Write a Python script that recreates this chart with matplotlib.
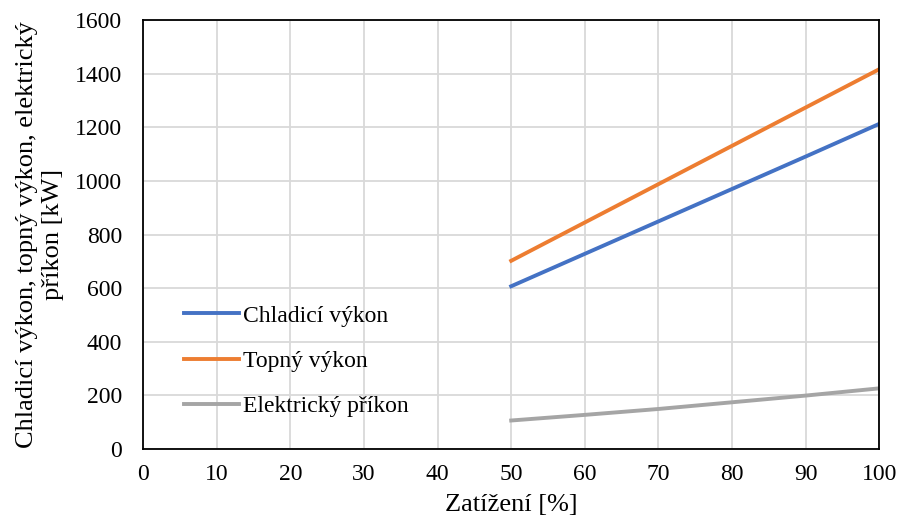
import matplotlib.pyplot as plt

# Data
zatizeni = [50, 60, 70, 80, 90, 100]
chladici_vykon = [607, 728, 849, 970, 1091, 1213]
topny_vykon = [702, 845, 988, 1131, 1274, 1417]
elektricky_prikon = [106, 127, 149, 174, 199, 226]

plt.rcParams['font.family'] = ['Liberation Serif', 'DejaVu Serif']

fig = plt.figure(figsize=(9, 5.3), dpi=100)
ax = fig.add_axes([0.159, 0.153, 0.818, 0.809])

ax.plot(zatizeni, chladici_vykon, color='#4472C4', lw=2.8, label='Chladicí výkon')
ax.plot(zatizeni, topny_vykon, color='#ED7D31', lw=2.8, label='Topný výkon')
ax.plot(zatizeni, elektricky_prikon, color='#A5A5A5', lw=2.8, label='Elektrický příkon')

ax.set_xlim(0, 100)
ax.set_ylim(0, 1600)
ax.set_xticks(range(0, 101, 10))
ax.set_yticks(range(0, 1601, 200))
ax.grid(color='#D9D9D9', lw=1.3)
ax.set_axisbelow(True)
for s in ax.spines.values():
    s.set_color('black')
    s.set_linewidth(1.3)
ax.tick_params(length=0, labelsize=17)
ax.tick_params(axis='y', pad=15)
ax.tick_params(axis='x', pad=11)

ax.set_xlabel('Zatížení [%]', fontsize=19, labelpad=6)
ax.set_ylabel('Chladicí výkon, topný výkon, elektrický\npříkon [kW]', fontsize=19,
              linespacing=1.25, labelpad=8)

ax.legend(loc='center left', bbox_to_anchor=(0.04, 0.205), frameon=False, fontsize=17,
          handlelength=2.3, labelspacing=1.0, handletextpad=0.2, borderpad=0)

fig.savefig('out.png')
